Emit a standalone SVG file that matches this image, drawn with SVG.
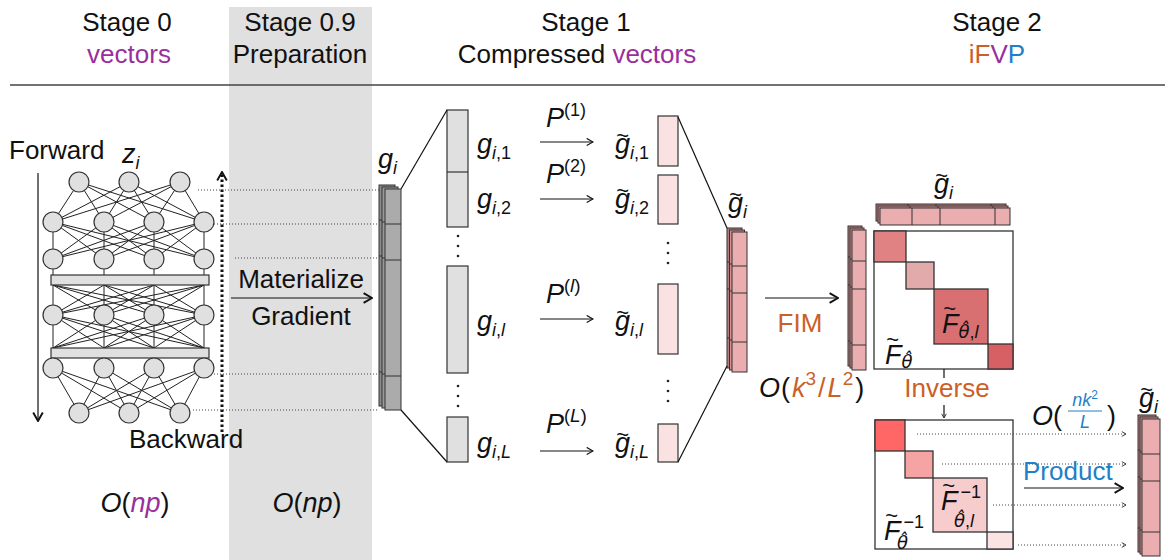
<svg xmlns="http://www.w3.org/2000/svg" xmlns:xlink="http://www.w3.org/1999/xlink" width="1175" height="560" viewBox="0 0 1175 560">
<style>
.h{font-family:"Liberation Sans",sans-serif;font-size:26px;fill:#111;text-anchor:middle}
.t{font-family:"Liberation Sans",sans-serif;font-size:26px;fill:#111}
.m{font-family:"Liberation Sans",sans-serif;font-style:italic;font-size:27px;fill:#111}
.sb{font-size:18px}
.up{font-style:normal}
.tl{font-size:22px;font-style:normal}
.pur{fill:#9a2f9c}
.org{fill:#cc5f27}
.blu{fill:#1f80c8}
.dot{stroke:#444;stroke-width:1;stroke-dasharray:1 2;fill:none}
.ln{stroke:#111;stroke-width:1.2;fill:none}
.nn{stroke:#222;stroke-width:1;fill:none}
.node{fill:#e0e0e0;stroke:#333;stroke-width:1.2}
.stk{stroke:#333;stroke-width:1}
</style>
<defs>
<marker id="ah" viewBox="0 0 10 10" refX="9" refY="5" markerWidth="9" markerHeight="9" markerUnits="userSpaceOnUse" orient="auto"><path d="M2,1 L9,5 L2,9" fill="none" stroke="#111" stroke-width="1.3"/></marker>
<marker id="ahb" viewBox="0 0 10 10" refX="9" refY="5" markerWidth="12" markerHeight="12" markerUnits="userSpaceOnUse" orient="auto"><path d="M2,1 L9,5 L2,9" fill="none" stroke="#111" stroke-width="1.6"/></marker>
<marker id="ahs" viewBox="0 0 10 10" refX="9" refY="5" markerWidth="6" markerHeight="6" markerUnits="userSpaceOnUse" orient="auto"><path d="M2,1 L9,5 L2,9" fill="none" stroke="#333" stroke-width="1.6"/></marker>
<g id="lg"><rect width="16" height="221"/><path d="M0,35H16M0,71H16M0,187H16"/></g>
<g id="lp1"><rect width="15" height="140"/><path d="M0,34H15M0,61H15M0,110H15"/></g>
<g id="lp2"><rect width="14" height="140"/><path d="M0,31H14M0,59H14M0,115H14"/></g>
<g id="lp3"><rect width="130" height="17"/><path d="M32,0V17M60,0V17M115,0V17"/></g>
<g id="lp4"><rect width="18" height="137"/><path d="M0,35H18M0,62H18M0,113H18"/></g>
</defs>

<rect width="1175" height="560" fill="#fff"/>
<rect x="229" y="7" width="143" height="553" fill="#e0e0e0"/>
<line x1="10" y1="85" x2="1165" y2="85" stroke="#444" stroke-width="1.5"/>

<g id="header">
<text class="h" x="127" y="31">Stage 0</text>
<text class="h pur" x="129" y="63">vectors</text>
<text class="h" x="300" y="31">Stage 0.9</text>
<text class="h" x="300" y="63">Preparation</text>
<text class="h" x="586" y="31">Stage 1</text>
<text class="h" x="577" y="63">Compressed <tspan class="pur">vectors</tspan></text>
<text class="h" x="997" y="31">Stage 2</text>
<text class="h" x="997" y="63"><tspan class="org">iF</tspan><tspan class="pur">V</tspan><tspan class="blu">P</tspan></text>
</g>

<g id="network">
<path class="nn" d="M79,182L53,222M79,182L104,222M79,182L154,222M79,182L204,222M129,182L53,222M129,182L104,222M129,182L154,222M129,182L204,222M180,182L53,222M180,182L104,222M180,182L154,222M180,182L204,222"/>
<path class="nn" d="M53,222L53,259M53,222L104,259M53,222L154,259M53,222L204,259M104,222L53,259M104,222L104,259M104,222L154,259M104,222L204,259M154,222L53,259M154,222L104,259M154,222L154,259M154,222L204,259M204,222L53,259M204,222L104,259M204,222L154,259M204,222L204,259"/>
<path class="nn" d="M53,259V285M104,259V285M154,259V285M204,259V285"/>
<path class="nn" d="M53,285L53,315M53,285L104,315M53,285L154,315M53,285L204,315M104,285L53,315M104,285L104,315M104,285L154,315M104,285L204,315M154,285L53,315M154,285L104,315M154,285L154,315M154,285L204,315M204,285L53,315M204,285L104,315M204,285L154,315M204,285L204,315"/>
<path class="nn" d="M53,315L53,348M53,315L104,348M53,315L154,348M53,315L204,348M104,315L53,348M104,315L104,348M104,315L154,348M104,315L204,348M154,315L53,348M154,315L104,348M154,315L154,348M154,315L204,348M204,315L53,348M204,315L104,348M204,315L154,348M204,315L204,348"/>
<path class="nn" d="M53,348V368M104,348V368M154,348V368M204,348V368"/>
<path class="nn" d="M53,368L79,413M53,368L129,413M53,368L180,413M104,368L79,413M104,368L129,413M104,368L180,413M154,368L79,413M154,368L129,413M154,368L180,413M204,368L79,413M204,368L129,413M204,368L180,413"/>
<rect x="51" y="275" width="158" height="10" class="node"/>
<rect x="51" y="348" width="158" height="10" class="node"/>
<circle class="node" cx="79" cy="182" r="10"/><circle class="node" cx="129" cy="182" r="10"/><circle class="node" cx="180" cy="182" r="10"/>
<circle class="node" cx="53" cy="222" r="10"/><circle class="node" cx="104" cy="222" r="10"/><circle class="node" cx="154" cy="222" r="10"/><circle class="node" cx="204" cy="222" r="10"/>
<circle class="node" cx="53" cy="259" r="10"/><circle class="node" cx="104" cy="259" r="10"/><circle class="node" cx="154" cy="259" r="10"/><circle class="node" cx="204" cy="259" r="10"/>
<circle class="node" cx="53" cy="315" r="10"/><circle class="node" cx="104" cy="315" r="10"/><circle class="node" cx="154" cy="315" r="10"/><circle class="node" cx="204" cy="315" r="10"/>
<circle class="node" cx="53" cy="368" r="10"/><circle class="node" cx="104" cy="368" r="10"/><circle class="node" cx="154" cy="368" r="10"/><circle class="node" cx="204" cy="368" r="10"/>
<circle class="node" cx="79" cy="413" r="10"/><circle class="node" cx="129" cy="413" r="10"/><circle class="node" cx="180" cy="413" r="10"/>
<text class="t" x="9" y="159">Forward</text>
<text class="m" x="122" y="163">z<tspan class="sb" dy="6">i</tspan></text>
<text class="t" x="129" y="448">Backward</text>
</g>

<g id="gi-stack" class="stk">
<use xlink:href="#lg" x="379" y="185" fill="#8c8c8c"/>
<use xlink:href="#lg" x="382" y="187" fill="#9a9a9a"/>
<use xlink:href="#lg" x="385" y="189" fill="#ababab"/>
<text class="m" x="378" y="168" stroke="none">g<tspan class="sb" dy="6">i</tspan></text>
</g>

<g id="compressed">
<rect x="447" y="110" width="21" height="117" fill="#e0e0e0" stroke="#333" stroke-width="1.2"/>
<line x1="447" y1="172" x2="468" y2="172" stroke="#333" stroke-width="1.2"/>
<rect x="447" y="266" width="21" height="107" fill="#e0e0e0" stroke="#333" stroke-width="1.2"/>
<rect x="447" y="417" width="21" height="45" fill="#e0e0e0" stroke="#333" stroke-width="1.2"/>
<g fill="#222"><circle cx="458" cy="236" r="1.3"/><circle cx="458" cy="246" r="1.3"/><circle cx="458" cy="256" r="1.3"/><circle cx="458" cy="386" r="1.3"/><circle cx="458" cy="396" r="1.3"/><circle cx="458" cy="406" r="1.3"/></g>
<text class="m" x="477" y="153">g<tspan class="sb" dy="6">i</tspan><tspan class="sb up">,1</tspan></text>
<text class="m" x="477" y="208">g<tspan class="sb" dy="6">i</tspan><tspan class="sb up">,2</tspan></text>
<text class="m" x="477" y="330">g<tspan class="sb" dy="6">i</tspan><tspan class="sb up">,</tspan><tspan class="sb">l</tspan></text>
<text class="m" x="477" y="452">g<tspan class="sb" dy="6">i</tspan><tspan class="sb up">,</tspan><tspan class="sb">L</tspan></text>
</g>

<g id="projected">
<rect x="658" y="116" width="20" height="50" fill="#fae1e2" stroke="#333" stroke-width="1.2"/>
<rect x="658" y="175" width="20" height="49" fill="#fae1e2" stroke="#333" stroke-width="1.2"/>
<rect x="658" y="284" width="20" height="70" fill="#fae1e2" stroke="#333" stroke-width="1.2"/>
<rect x="658" y="424" width="20" height="38" fill="#fae1e2" stroke="#333" stroke-width="1.2"/>
<g fill="#222"><circle cx="668" cy="243" r="1.3"/><circle cx="668" cy="253" r="1.3"/><circle cx="668" cy="263" r="1.3"/><circle cx="668" cy="381" r="1.3"/><circle cx="668" cy="391" r="1.3"/><circle cx="668" cy="401" r="1.3"/></g>
<text class="m" x="615" y="153"><tspan class="tl" dy="-10">~</tspan><tspan dx="-14" dy="10">g</tspan><tspan class="sb" dy="6">i</tspan><tspan class="sb up">,1</tspan></text>
<text class="m" x="615" y="208"><tspan class="tl" dy="-10">~</tspan><tspan dx="-14" dy="10">g</tspan><tspan class="sb" dy="6">i</tspan><tspan class="sb up">,2</tspan></text>
<text class="m" x="615" y="330"><tspan class="tl" dy="-10">~</tspan><tspan dx="-14" dy="10">g</tspan><tspan class="sb" dy="6">i</tspan><tspan class="sb up">,</tspan><tspan class="sb">l</tspan></text>
<text class="m" x="615" y="452"><tspan class="tl" dy="-10">~</tspan><tspan dx="-14" dy="10">g</tspan><tspan class="sb" dy="6">i</tspan><tspan class="sb up">,</tspan><tspan class="sb">L</tspan></text>
</g>

<g id="gt-stack1" class="stk">
<use xlink:href="#lp1" x="727" y="228" fill="#b87c7c"/>
<use xlink:href="#lp1" x="729.5" y="230" fill="#cf9092"/>
<use xlink:href="#lp1" x="732" y="232" fill="#ebaeb0"/>
<text class="m" x="728" y="212" stroke="none"><tspan class="tl" dy="-10">~</tspan><tspan dx="-14" dy="10">g</tspan><tspan class="sb" dy="6">i</tspan></text>
</g>

<g id="gt-stack2" class="stk">
<use xlink:href="#lp2" x="848" y="226" fill="#b87c7c"/>
<use xlink:href="#lp2" x="850" y="228" fill="#cf9092"/>
<use xlink:href="#lp2" x="852" y="230" fill="#ebaeb0"/>
</g>

<g id="gt-stack3" class="stk">
<use xlink:href="#lp3" x="876" y="204" fill="#b87c7c"/>
<use xlink:href="#lp3" x="878" y="206" fill="#cf9092"/>
<use xlink:href="#lp3" x="880" y="208" fill="#ebaeb0"/>
<text class="m" x="934" y="193" stroke="none"><tspan class="tl" dy="-10">~</tspan><tspan dx="-14" dy="10">g</tspan><tspan class="sb" dy="6">i</tspan></text>
</g>

<g id="fim-matrix">
<rect x="874" y="231" width="139" height="138" fill="#fff" stroke="#333" stroke-width="1.3"/>
<rect x="874" y="231" width="32" height="31" fill="#e08283" stroke="#333" stroke-width="1.3"/>
<rect x="906" y="262" width="28" height="27" fill="#e2aaaa" stroke="#333" stroke-width="1.3"/>
<rect x="934" y="289" width="54" height="55" fill="#d87072" stroke="#333" stroke-width="1.3"/>
<rect x="988" y="344" width="25" height="25" fill="#d66063" stroke="#333" stroke-width="1.3"/>
<text class="m" x="942" y="333"><tspan class="tl" dy="-17">~</tspan><tspan dx="-14" dy="17">F</tspan><tspan class="sb" font-family="DejaVu Sans" dy="5">θ̂</tspan><tspan class="sb up">,</tspan><tspan class="sb">l</tspan></text>
<text class="m" x="885" y="364"><tspan class="tl" dy="-17">~</tspan><tspan dx="-14" dy="17">F</tspan><tspan class="sb" font-family="DejaVu Sans" dy="4">θ̂</tspan></text>
</g>

<g id="inv-matrix">
<rect x="875" y="420" width="138" height="129" fill="#fff" stroke="#333" stroke-width="1.3"/>
<rect x="875" y="420" width="30" height="31" fill="#ff6767" stroke="#333" stroke-width="1.3"/>
<rect x="905" y="451" width="28" height="27" fill="#f6a3a4" stroke="#333" stroke-width="1.3"/>
<rect x="933" y="478" width="54" height="54" fill="#f7cccd" stroke="#333" stroke-width="1.3"/>
<rect x="987" y="532" width="26" height="17" fill="#fbe3e4" stroke="#333" stroke-width="1.3"/>
<text class="m" x="941" y="510"><tspan class="tl" dy="-17">~</tspan><tspan dx="-14" dy="17">F</tspan><tspan class="sb up" font-size="19" dx="3" dy="-12">−1</tspan><tspan class="sb" font-family="DejaVu Sans" dx="-27" dy="29">θ̂</tspan><tspan class="sb up">,</tspan><tspan class="sb">l</tspan></text>
<text class="m" x="884" y="540"><tspan class="tl" dy="-17">~</tspan><tspan dx="-14" dy="17">F</tspan><tspan class="sb up" font-size="19" dx="3" dy="-12">−1</tspan><tspan class="sb" font-family="DejaVu Sans" dx="-27" dy="21">θ̂</tspan></text>
</g>

<g id="gt-stack4" class="stk">
<use xlink:href="#lp4" x="1138" y="415" fill="#b87c7c"/>
<use xlink:href="#lp4" x="1140" y="417" fill="#cf9092"/>
<use xlink:href="#lp4" x="1142" y="419" fill="#ebaeb0"/>
<text class="m" x="1139" y="407" stroke="none"><tspan class="tl" dy="-10">~</tspan><tspan dx="-14" dy="10">g</tspan><tspan class="sb" dy="6">i</tspan></text>
</g>

<g id="connectors">
<line class="ln" x1="38" y1="173" x2="38" y2="421" marker-end="url(#ahb)"/>
<line x1="222" y1="432" x2="222" y2="172" stroke="#111" stroke-width="3" stroke-dasharray="2.5 2.5" marker-end="url(#ahb)"/>
<line class="dot" x1="198" y1="190" x2="379" y2="190"/>
<line class="dot" x1="214" y1="224" x2="379" y2="224"/>
<line class="dot" x1="235" y1="258" x2="379" y2="258"/>
<line class="dot" x1="214" y1="374" x2="379" y2="374"/>
<line class="dot" x1="193" y1="410" x2="379" y2="410"/>
<line class="ln" x1="231" y1="298" x2="372" y2="298" stroke-width="1.8" marker-end="url(#ahb)"/>
<line class="ln" x1="401" y1="189" x2="447" y2="110"/>
<line class="ln" x1="401" y1="410" x2="447" y2="462"/>
<line class="ln" x1="540" y1="142" x2="593" y2="142" marker-end="url(#ah)"/>
<line class="ln" x1="540" y1="199" x2="593" y2="199" marker-end="url(#ah)"/>
<line class="ln" x1="540" y1="319" x2="593" y2="319" marker-end="url(#ah)"/>
<line class="ln" x1="540" y1="451" x2="593" y2="451" marker-end="url(#ah)"/>
<line class="ln" x1="678" y1="117" x2="727" y2="228"/>
<line class="ln" x1="678" y1="462" x2="727" y2="366"/>
<line class="ln" x1="765" y1="298" x2="838" y2="298" stroke-width="1.8" marker-end="url(#ahb)"/>
<line class="ln" x1="944" y1="369" x2="944" y2="378"/>
<line class="ln" x1="944" y1="405" x2="944" y2="418" stroke-width="1" marker-end="url(#ahs)"/>
<line class="dot" x1="917" y1="434" x2="1126" y2="434" marker-end="url(#ahs)"/>
<line class="dot" x1="942" y1="464" x2="1126" y2="464" marker-end="url(#ahs)"/>
<line class="dot" x1="993" y1="505" x2="1126" y2="505" marker-end="url(#ahs)"/>
<line class="dot" x1="1018" y1="545" x2="1126" y2="545" marker-end="url(#ahs)"/>
<line class="ln" x1="1024" y1="488" x2="1123" y2="488" stroke-width="1.8" marker-end="url(#ahb)"/>
</g>

<g id="labels">
<text class="t" x="301" y="288" text-anchor="middle">Materialize</text>
<text class="t" x="301" y="325" text-anchor="middle">Gradient</text>
<text class="m" x="546" y="127">P<tspan class="sb up" font-size="19" dy="-11">(1)</tspan></text>
<text class="m" x="546" y="183">P<tspan class="sb up" font-size="19" dy="-11">(2)</tspan></text>
<text class="m" x="546" y="303">P<tspan class="sb up" font-size="19" dy="-11">(</tspan><tspan font-size="19">l</tspan><tspan class="up" font-size="19">)</tspan></text>
<text class="m" x="546" y="433">P<tspan class="sb up" font-size="19" dy="-11">(</tspan><tspan font-size="19">L</tspan><tspan class="up" font-size="19">)</tspan></text>
<text class="t org" x="800" y="332" text-anchor="middle">FIM</text>
<text class="t org" x="947" y="397" text-anchor="middle">Inverse</text>
<text class="t blu" x="1023" y="480" font-size="27">Product</text>
<text class="m" x="759" y="397" font-size="30">O<tspan class="up" dx="1">(</tspan><tspan class="org" dx="2">k</tspan><tspan class="up org" font-size="19" dy="-12">3</tspan><tspan class="up org" dx="2" dy="12">/</tspan><tspan class="org" dx="2">L</tspan><tspan class="up org" font-size="19" dy="-12">2</tspan><tspan class="up" dx="2" dy="12">)</tspan></text>
<text class="m" x="1032" y="425" font-size="29">O<tspan class="up">(</tspan></text>
<text class="m sb blu" x="1085" y="406" text-anchor="middle">nk<tspan font-size="12" class="up" dy="-7">2</tspan></text>
<line x1="1068" y1="411" x2="1102" y2="411" stroke="#1f80c8" stroke-width="1"/>
<text class="m sb blu" x="1085" y="428" text-anchor="middle">L</text>
<text class="m up" x="1107" y="425" font-size="29">)</text>
<text class="m" x="135" y="512" font-size="29" text-anchor="middle">O<tspan class="up">(</tspan><tspan class="pur">np</tspan><tspan class="up">)</tspan></text>
<text class="m" x="307" y="512" font-size="29" text-anchor="middle">O<tspan class="up">(</tspan>np<tspan class="up">)</tspan></text>
</g>
</svg>
